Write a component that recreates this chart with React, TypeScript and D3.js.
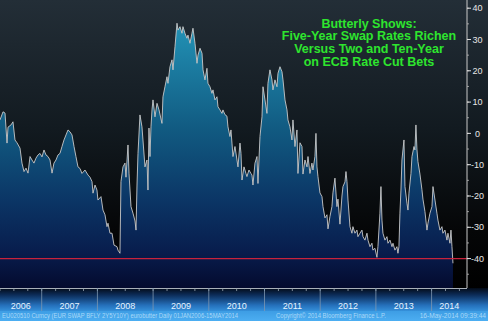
import React from "react";
import * as d3 from "d3";

// decimal-year dates and butterfly values (bp)
const dates: number[] = [
  2006.251, 2006.305, 2006.341, 2006.377, 2006.395, 2006.448, 2006.484, 2006.52, 2006.556, 2006.61,
  2006.646, 2006.682, 2006.718, 2006.754, 2006.79, 2006.825, 2006.861, 2006.897, 2006.933, 2006.969,
  2007.005, 2007.041, 2007.077, 2007.113, 2007.149, 2007.185, 2007.22, 2007.256, 2007.292, 2007.328,
  2007.364, 2007.4, 2007.436, 2007.472, 2007.508, 2007.544, 2007.58, 2007.615, 2007.651, 2007.687,
  2007.723, 2007.777, 2007.831, 2007.867, 2007.903, 2007.921, 2007.957, 2007.992, 2008.01, 2008.064,
  2008.1, 2008.136, 2008.172, 2008.19, 2008.226, 2008.262, 2008.298, 2008.352, 2008.369, 2008.405,
  2008.423, 2008.459, 2008.495, 2008.513, 2008.549, 2008.567, 2008.603, 2008.639, 2008.675, 2008.693,
  2008.711, 2008.729, 2008.764, 2008.8, 2008.818, 2008.854, 2008.89, 2008.908, 2008.926, 2008.944,
  2008.962, 2008.98, 2008.998, 2009.034, 2009.07, 2009.106, 2009.159, 2009.177, 2009.213, 2009.249,
  2009.267, 2009.303, 2009.339, 2009.357, 2009.393, 2009.429, 2009.447, 2009.483, 2009.518, 2009.536,
  2009.572, 2009.608, 2009.626, 2009.662, 2009.698, 2009.716, 2009.752, 2009.788, 2009.806, 2009.842,
  2009.878, 2009.896, 2009.931, 2009.967, 2009.985, 2010.021, 2010.057, 2010.075, 2010.111, 2010.147,
  2010.165, 2010.201, 2010.237, 2010.254, 2010.29, 2010.326, 2010.344, 2010.38, 2010.398, 2010.416,
  2010.434, 2010.47, 2010.506, 2010.524, 2010.56, 2010.578, 2010.596, 2010.632, 2010.667, 2010.685,
  2010.721, 2010.757, 2010.775, 2010.793, 2010.829, 2010.865, 2010.883, 2010.919, 2010.955, 2010.973,
  2011.009, 2011.044, 2011.062, 2011.098, 2011.134, 2011.152, 2011.188, 2011.224, 2011.242, 2011.278,
  2011.314, 2011.332, 2011.368, 2011.404, 2011.421, 2011.457, 2011.493, 2011.511, 2011.547, 2011.583,
  2011.601, 2011.637, 2011.673, 2011.691, 2011.727, 2011.763, 2011.781, 2011.816, 2011.852, 2011.87,
  2011.906, 2011.924, 2011.942, 2011.96, 2011.996, 2012.032, 2012.05, 2012.086, 2012.122, 2012.14,
  2012.175, 2012.211, 2012.229, 2012.265, 2012.301, 2012.319, 2012.355, 2012.391, 2012.409, 2012.445,
  2012.463, 2012.481, 2012.499, 2012.535, 2012.57, 2012.588, 2012.624, 2012.66, 2012.678, 2012.714,
  2012.75, 2012.768, 2012.804, 2012.84, 2012.858, 2012.894, 2012.929, 2012.947, 2012.983, 2013.019,
  2013.037, 2013.073, 2013.091, 2013.109, 2013.127, 2013.163, 2013.199, 2013.217, 2013.253, 2013.289,
  2013.307, 2013.342, 2013.378, 2013.396, 2013.414, 2013.432, 2013.45, 2013.468, 2013.504, 2013.522,
  2013.558, 2013.576, 2013.594, 2013.63, 2013.648, 2013.684, 2013.701, 2013.719, 2013.737, 2013.755,
  2013.791, 2013.827, 2013.845, 2013.881, 2013.917, 2013.935, 2013.971, 2014.007, 2014.025, 2014.061,
  2014.096, 2014.114, 2014.15, 2014.186, 2014.204, 2014.24, 2014.276, 2014.294, 2014.33, 2014.348,
  2014.366, 2014.384,
];

const values: number[] = [
  4.3, 6.9, 6.5, -3.1, 2, 2.7, 3.7, -2.1, -3, -4.7,
  -9.5, -12.2, -11.1, -12.7, -7.4, -8.5, -9.5, -7.9, -6.9, -6.4,
  -7.5, -5.3, -6.9, -7.4, -8.5, -12.7, -9.5, -8.5, -6.9, -6.4,
  -4.2, -2.1, -0.5, 1.1, 0.5, -0.5, -4.2, -7.4, -10.7, -11.2,
  -12.8, -11.7, -13.3, -14, -15.4, -19.1, -16.5, -18.1, -21.3, -20.2,
  -24.5, -26, -29.8, -28.7, -31.9, -31.9, -35.7, -36.2, -37.3, -38.3,
  -15.4, -10.7, -9.5, -14, -3.7, -12.7, -23.4, -25.5, -28, -30.9,
  -16.5, -6.4, 5.9, 2.1, -2.1, -10.7, -8.5, -18.1, 1.7, -7.4,
  2.1, 7.5, 10.7, 5.3, 9.6, 7.5, 3.2, 11.7, 14.9, 18.1,
  16, 21.3, 23.5, 20.3, 27.7, 35.2, 33, 34.1, 32, 34.1,
  32, 30.4, 31.4, 28.8, 32, 33.6, 28.8, 22.4, 25, 27.2,
  25.6, 20.3, 17.1, 20.8, 16, 14.9, 12.8, 13.9, 10.7, 11.7,
  8.5, 7.5, 6.4, 7.5, 6, 5.5, 2.1, -1, 1.1, -3.1,
  -7.4, -4.2, -8.5, -10.7, -3.1, -6.4, -14.9, -10.7, -12.8, -13.8,
  -11.7, -12.8, -13.3, -16.5, -9.5, -7.4, -16, -1, 5.3, 14.9,
  10.7, 6.4, 16, 20.3, 17.1, 13.9, 17.1, 14.9, 19.2, 21.3,
  19.7, 17.1, 10.7, 7.5, 4.3, 2.1, -2.1, 4.3, -4.2, 1.1,
  -12.8, -3, -4.2, -13, -8.5, -10.7, -7.4, -12.8, -9.5, -11.7,
  -7.4, 0, -10.7, -13.8, -19, -20.2, -23.4, -27, -26, -30.5,
  -26.6, -23.4, -19, -14.3, -23.4, -21, -29, -20, -17, -15.5,
  -12.2, -15.4, -21.3, -29.8, -31.9, -29.8, -31.9, -30.9, -33, -31.9,
  -30.9, -33, -34.1, -31.9, -34.1, -36.2, -35.1, -37.3, -36.7, -39.6,
  -36.2, -25.5, -17, -27.7, -31.9, -34.1, -33, -35.1, -34.1, -36.2,
  -35.1, -37.3, -36.2, -38.3, -36.2, -25.5, -18.1, -8.5, -2.1, -17,
  -22.3, -24.5, -19.1, -12.8, -7.4, -4.2, -5.3, 2.7, -5, -9,
  -13, -18, -21, -25, -30.9, -28.7, -25.5, -23.4, -17, -21.3,
  -25.5, -27.7, -30.9, -29.8, -31.9, -30.9, -34.1, -31.9, -35.1, -30.9,
  -36.2, -41.5,
];

const yearLabels: number[] = [2006, 2007, 2008, 2009, 2010, 2011, 2012, 2013, 2014];
const yTickValues: number[] = [-40, -30, -20, -10, 0, 10, 20, 30, 40];
const referenceLevel = -40;

const titleLines: string[] = [
  "Butterly Shows:",
  "Five-Year Swap Rates Richen",
  "Versus Two and Ten-Year",
  "on ECB Rate Cut Bets",
];

const footerLeft = "EU020510 Curncy (EUR SWAP BFLY 2Y5Y10Y) eurobutter  Daily 01JAN2006-15MAY2014";
const footerMid = "Copyright\u00A9 2014 Bloomberg Finance L.P.";
const footerRight = "16-May-2014 09:39:44";

const W = 488;
const H = 321;
const plotRight = 467;
const plotBottom = 288;

export default function App() {
  const x = d3.scaleLinear().domain([2006.251, 2014.636]).range([0, plotRight]);
  const y = d3.scaleLinear().domain([-49.4, 42.62]).range([plotBottom, 0]);

  const data = dates.map((d, i) => ({ d, v: values[i] }));
  const area = d3
    .area<{ d: number; v: number }>()
    .x((p) => x(p.d))
    .y0(plotBottom)
    .y1((p) => y(p.v));
  const line = d3
    .line<{ d: number; v: number }>()
    .x((p) => x(p.d))
    .y((p) => y(p.v));

  const quarters: number[] = d3.range(2006.25, 2014.6, 0.25);
  const minorY: number[] = d3.range(-45, 45, 5);
  const font = "'Liberation Sans', Arial, sans-serif";

  return (
    <svg
      width={W}
      height={H}
      style={{ position: "absolute", left: 0, top: 0, display: "block" }}
      fontFamily={font}
    >
      <defs>
        <linearGradient id="bg" x1="0" y1="0" x2="0" y2={plotBottom} gradientUnits="userSpaceOnUse">
          <stop offset="0" stopColor="#232e37" />
          <stop offset="0.45" stopColor="#121a20" />
          <stop offset="0.8" stopColor="#050607" />
          <stop offset="1" stopColor="#000000" />
        </linearGradient>
        <linearGradient id="fill" x1="0" y1="0" x2="0" y2={plotBottom} gradientUnits="userSpaceOnUse">
          <stop offset="0" stopColor="#2b9ec2" />
          <stop offset="0.15" stopColor="#1f88ac" />
          <stop offset="0.45" stopColor="#115a81" />
          <stop offset="0.7" stopColor="#0b3565" />
          <stop offset="0.88" stopColor="#081c4c" />
          <stop offset="1" stopColor="#040b2e" />
        </linearGradient>
        <linearGradient id="band" x1="0" y1={plotBottom} x2="0" y2={311} gradientUnits="userSpaceOnUse">
          <stop offset="0" stopColor="#030a16" />
          <stop offset="0.3" stopColor="#0c2c58" />
          <stop offset="0.75" stopColor="#2570bb" />
          <stop offset="1" stopColor="#3590da" />
        </linearGradient>
        <linearGradient id="foot" x1="0" y1={311} x2="0" y2={H} gradientUnits="userSpaceOnUse">
          <stop offset="0" stopColor="#3d9de4" />
          <stop offset="1" stopColor="#4caef2" />
        </linearGradient>
        <clipPath id="plotClip">
          <rect x={0} y={0} width={plotRight} height={plotBottom} />
        </clipPath>
      </defs>

      {/* background */}
      <rect x={0} y={0} width={W} height={plotBottom} fill="url(#bg)" />

      {/* area + line */}
      <g clipPath="url(#plotClip)">
        <path d={area(data) ?? ""} fill="url(#fill)" />
        <path d={line(data) ?? ""} fill="none" stroke="#c8c8c8" strokeWidth={0.9} strokeLinejoin="round" />
        <line
          x1={0}
          x2={plotRight}
          y1={y(referenceLevel)}
          y2={y(referenceLevel)}
          stroke="#c8223c"
          strokeWidth={1.2}
        />
      </g>

      {/* title */}
      <g fill="#2ee52e" fontWeight="bold" fontSize={12.5} textAnchor="middle">
        {titleLines.map((t, i) => (
          <text key={t} x={369} y={27.5 + i * 12.7}>
            {t}
          </text>
        ))}
      </g>

      {/* y axis */}
      <line x1={plotRight} x2={plotRight} y1={0} y2={plotBottom} stroke="#c9c9c9" strokeWidth={1} />
      {minorY.map((v) => (
        <line key={"m" + v} x1={plotRight} x2={plotRight + 2} y1={y(v)} y2={y(v)} stroke="#b8b8b8" strokeWidth={0.8} />
      ))}
      {yTickValues.map((v) => (
        <g key={v}>
          <line x1={plotRight} x2={plotRight + 4} y1={y(v)} y2={y(v)} stroke="#e0e0e0" strokeWidth={1} />
          <text x={477.5} y={y(v) + 3.2} fill="#e6e6e6" fontSize={9} textAnchor="middle">
            {v}
          </text>
        </g>
      ))}

      {/* x axis band */}
      <rect x={0} y={plotBottom} width={W} height={311 - plotBottom} fill="url(#band)" />
      <rect x={0} y={311} width={W} height={H - 311} fill="url(#foot)" />
      <line x1={0} x2={plotRight} y1={plotBottom + 0.5} y2={plotBottom + 0.5} stroke="#a9b0b8" strokeWidth={1} />
      {quarters.map((q) => (
        <line key={"q" + q} x1={x(q)} x2={x(q)} y1={plotBottom} y2={plotBottom + 3} stroke="#9aa6b2" strokeWidth={0.8} />
      ))}
      {yearLabels.slice(1).map((yr) => (
        <line key={"s" + yr} x1={x(yr)} x2={x(yr)} y1={plotBottom} y2={311} stroke="#7f97b0" strokeWidth={0.8} />
      ))}
      {yearLabels.map((yr) => {
        const a = Math.max(0, x(yr));
        const b = Math.min(plotRight, x(yr + 1));
        return (
          <text key={"y" + yr} x={(a + b) / 2} y={309} fill="#e8f4ff" fontSize={9} textAnchor="middle">
            {yr}
          </text>
        );
      })}

      {/* footer */}
      <g fill="#a9d8f8" fontSize={6.6}>
        <text x={2} y={318} textLength={236} lengthAdjust="spacingAndGlyphs">
          {footerLeft}
        </text>
        <text x={276} y={318} textLength={110} lengthAdjust="spacingAndGlyphs">
          {footerMid}
        </text>
        <text x={486} y={318} textAnchor="end">
          {footerRight}
        </text>
      </g>
    </svg>
  );
}
